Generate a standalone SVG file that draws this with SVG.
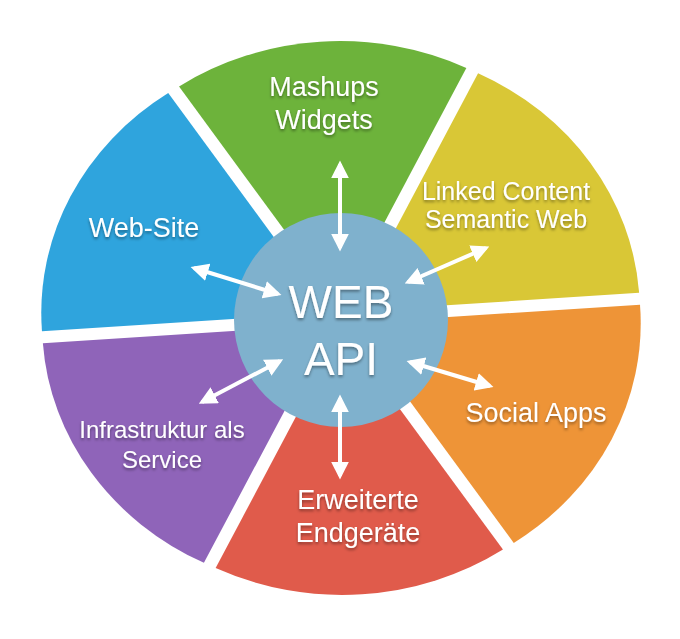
<svg xmlns="http://www.w3.org/2000/svg" width="680" height="639" viewBox="0 0 680 639">
<defs>
<marker id="ah" viewBox="0 0 10 10" refX="8" refY="5" markerWidth="4.5" markerHeight="4.5" orient="auto-start-reverse"><path d="M0,0 L10,5 L0,10 Z" fill="#fff"/></marker>
<filter id="sh" x="-10%" y="-10%" width="120%" height="130%"><feDropShadow dx="0" dy="2" stdDeviation="1.5" flood-color="#000" flood-opacity="0.4"/></filter>
</defs>
<style>
.t{font-family:"Liberation Sans",Arial,sans-serif;fill:#fff;font-size:27px;text-anchor:middle;filter:url(#sh)}
.m{font-size:25px}
.s{font-size:24px}
.big{font-size:46px}
.a{stroke:#fff;stroke-width:4;fill:none;marker-start:url(#ah);marker-end:url(#ah)}
</style>
<rect width="680" height="639" fill="#fff"/>
<g transform="translate(341,318) scale(1,0.92) rotate(-4)">
<g id="green"><path transform="translate(0,-13)" d="M0,0 L-144,-249.4 A288,288 0 0 1 144,-249.4 Z" fill="#6db33b"/></g>
<g id="yellow"><path transform="translate(11.3,-6.5)" d="M0,0 L144,-249.4 A288,288 0 0 1 288,0 Z" fill="#d9c736"/></g>
<g id="orange"><path transform="translate(11.3,6.5)" d="M0,0 L288,0 A288,288 0 0 1 144,249.4 Z" fill="#ee9437"/></g>
<g id="red"><path transform="translate(0,13)" d="M0,0 L144,249.4 A288,288 0 0 1 -144,249.4 Z" fill="#e05b4b"/></g>
<g id="purple"><path transform="translate(-11.3,6.5)" d="M0,0 L-144,249.4 A288,288 0 0 1 -288,0 Z" fill="#8f64b9"/></g>
<g id="blue"><path transform="translate(-11.3,-6.5)" d="M0,0 L-288,0 A288,288 0 0 1 -144,-249.4 Z" fill="#2fa4dd"/></g>
</g>
<g id="center"><circle cx="341" cy="320" r="107" fill="#7fb1cd"/>
<text class="t big" x="341" y="318">WEB</text><text class="t big" x="341" y="375">API</text></g>
<g id="labels">
<text class="t" x="324" y="96">Mashups</text><text class="t" x="324" y="129">Widgets</text>
<text class="t m" x="506" y="200">Linked Content</text><text class="t m" x="506" y="228">Semantic Web</text>
<text class="t" x="144" y="237">Web-Site</text>
<text class="t" x="536" y="422">Social Apps</text>
<text class="t s" x="162" y="438">Infrastruktur als</text><text class="t s" x="162" y="468">Service</text>
<text class="t" x="358" y="509">Erweiterte</text><text class="t" x="358" y="542">Endgeräte</text>
</g>
<g id="connectors">
<line class="a" x1="340" y1="164" x2="340" y2="248"/>
<line class="a" x1="486" y1="248" x2="408" y2="282"/>
<line class="a" x1="194" y1="268" x2="278" y2="294"/>
<line class="a" x1="410" y1="362" x2="490" y2="386"/>
<line class="a" x1="202" y1="402" x2="280" y2="361"/>
<line class="a" x1="340" y1="398" x2="340" y2="476"/>
</g>
</svg>
